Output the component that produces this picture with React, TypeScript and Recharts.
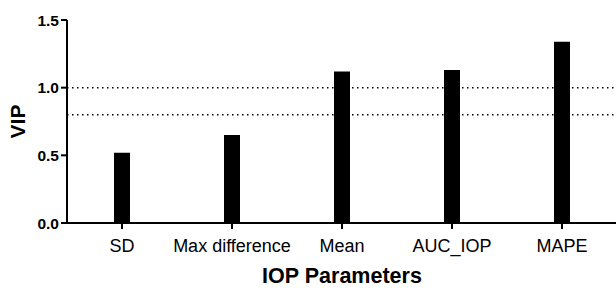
import React from 'react';
import { BarChart, Bar, XAxis, YAxis, ReferenceLine, Label } from 'recharts';

const categories = ['SD', 'Max difference', 'Mean', 'AUC_IOP', 'MAPE'];
const vipValues = [0.52, 0.65, 1.12, 1.13, 1.34];
const thresholds = [1.0, 0.8];
const yTicks = [0, 0.5, 1.0, 1.5];

const data = categories.map((name, i) => ({ name, vip: vipValues[i] }));

const FONT = '"Liberation Sans", Arial, Helvetica, sans-serif';

const App: React.FC = () => {
  return (
    <div style={{ position: 'absolute', left: 0, top: 0, width: 616, height: 288, background: '#fff', fontFamily: FONT }}>
      <BarChart width={616} height={288} data={data} margin={{ top: 20, right: -1, bottom: 0, left: 0 }} barCategoryGap={0}>
        <XAxis
          dataKey="name"
          height={65}
          axisLine={{ stroke: '#000', strokeWidth: 2 }}
          tickLine={{ stroke: '#000', strokeWidth: 2 }}
          tickSize={6}
          tick={{ fill: '#000', fontSize: 18, fontFamily: FONT }}
          tickMargin={10}
          interval={0}
        >
          <Label value="IOP Parameters" position="insideBottom" offset={5} style={{ fill: '#000', fontSize: 21.5, fontWeight: 700, fontFamily: FONT }} />
        </XAxis>
        <YAxis
          width={67}
          domain={[0, 1.5]}
          ticks={yTicks}
          tickFormatter={(v: number) => v.toFixed(1)}
          axisLine={{ stroke: '#000', strokeWidth: 2 }}
          tickLine={{ stroke: '#000', strokeWidth: 2 }}
          tickSize={6}
          tickMargin={2}
          tick={{ fill: '#000', fontSize: 15.5, fontWeight: 700, fontFamily: FONT }}
        >
          <Label value="VIP" angle={-90} position="insideLeft" offset={18} style={{ fill: '#000', fontSize: 21, fontWeight: 700, fontFamily: FONT, textAnchor: 'middle' }} />
        </YAxis>
        {thresholds.map((t) => (
          <ReferenceLine key={t} y={t} stroke="#000" strokeWidth={1.5} strokeDasharray="1.5 3.5" />
        ))}
        <Bar dataKey="vip" fill="#000" barSize={16} isAnimationActive={false} />
      </BarChart>
    </div>
  );
};

export default App;
